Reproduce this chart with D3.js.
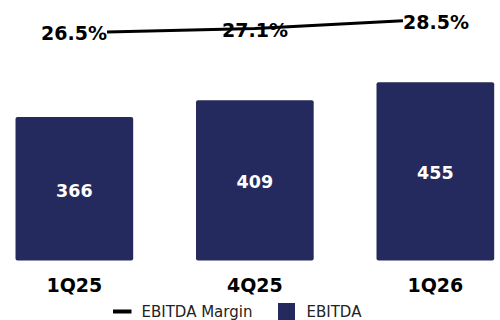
<!DOCTYPE html>
<html><head><meta charset="utf-8">
<script src="https://cdn.jsdelivr.net/npm/d3@7"></script>
<style>body{margin:0;background:#fff}svg{display:block}</style>
</head><body>
<svg id="chart" width="500" height="320"></svg>
<script>
const categories = ["1Q25", "4Q25", "1Q26"];
const ebitda = [366, 409, 455];
const margin = [26.5, 27.1, 28.5];
const marginLabels = ["26.5%", "27.1%", "28.5%"];
const labelAnchors = ["end", "middle", "start"];
const legendItems = ["EBITDA Margin", "EBITDA"];

const svg = d3.select("#chart");
const barColor = "#252a5e";
const font = "'DejaVu Sans', Verdana, sans-serif";

const x = d3.scaleBand().domain(categories).range([-15.9, 525.6]).paddingInner(0.348).paddingOuter(0.174);
const y = d3.scaleLinear().domain([0, 600]).range([260.5, 25.3]);
const xl = d3.scalePoint().domain(categories).range([107, 403]);
const yl = d3.scaleLinear().domain([20, 30]).range([68.7, 12.2]);

// bars
svg.selectAll("rect.bar").data(categories).join("rect")
  .attr("class", "bar")
  .attr("x", d => x(d))
  .attr("y", (d, i) => y(ebitda[i]))
  .attr("width", x.bandwidth())
  .attr("height", (d, i) => y(0) - y(ebitda[i]))
  .attr("rx", 2)
  .attr("fill", barColor);

svg.selectAll("text.barlab").data(categories).join("text")
  .attr("class", "barlab")
  .attr("x", d => x(d) + x.bandwidth() / 2)
  .attr("y", (d, i) => (y(ebitda[i]) + y(0)) / 2 + 2)
  .attr("text-anchor", "middle")
  .attr("dominant-baseline", "central")
  .attr("font-family", font).attr("font-weight", "bold").attr("font-size", 17.5)
  .attr("fill", "#fff")
  .text((d, i) => ebitda[i]);

// category axis labels
svg.selectAll("text.cat").data(categories).join("text")
  .attr("class", "cat")
  .attr("x", d => x(d) + x.bandwidth() / 2)
  .attr("y", 292)
  .attr("text-anchor", "middle")
  .attr("font-family", font).attr("font-weight", "bold").attr("font-size", 19)
  .attr("fill", "#000")
  .text(d => d);

// margin line
const line = d3.line().x((d, i) => xl(categories[i])).y(d => yl(d));
svg.append("path").datum(margin)
  .attr("d", line)
  .attr("fill", "none").attr("stroke", "#000").attr("stroke-width", 3);

svg.selectAll("text.mlab").data(margin).join("text")
  .attr("class", "mlab")
  .attr("x", (d, i) => xl(categories[i]))
  .attr("y", (d, i) => yl(d) + 1)
  .attr("text-anchor", (d, i) => labelAnchors[i])
  .attr("dominant-baseline", "central")
  .attr("font-family", font).attr("font-weight", "bold").attr("font-size", 19)
  .attr("fill", "#000")
  .text((d, i) => marginLabels[i]);

// legend
const lg = svg.append("g");
lg.append("line").attr("x1", 113).attr("x2", 131.5).attr("y1", 311.5).attr("y2", 311.5)
  .attr("stroke", "#000").attr("stroke-width", 4);
lg.append("text").attr("x", 141.5).attr("y", 316.5)
  .attr("font-family", font).attr("font-size", 15).attr("fill", "#222")
  .text(legendItems[0]);
lg.append("rect").attr("x", 278).attr("y", 303).attr("width", 17).attr("height", 17)
  .attr("fill", barColor);
lg.append("text").attr("x", 306.5).attr("y", 316.5)
  .attr("font-family", font).attr("font-size", 15).attr("fill", "#222")
  .text(legendItems[1]);
</script>
</body></html>
